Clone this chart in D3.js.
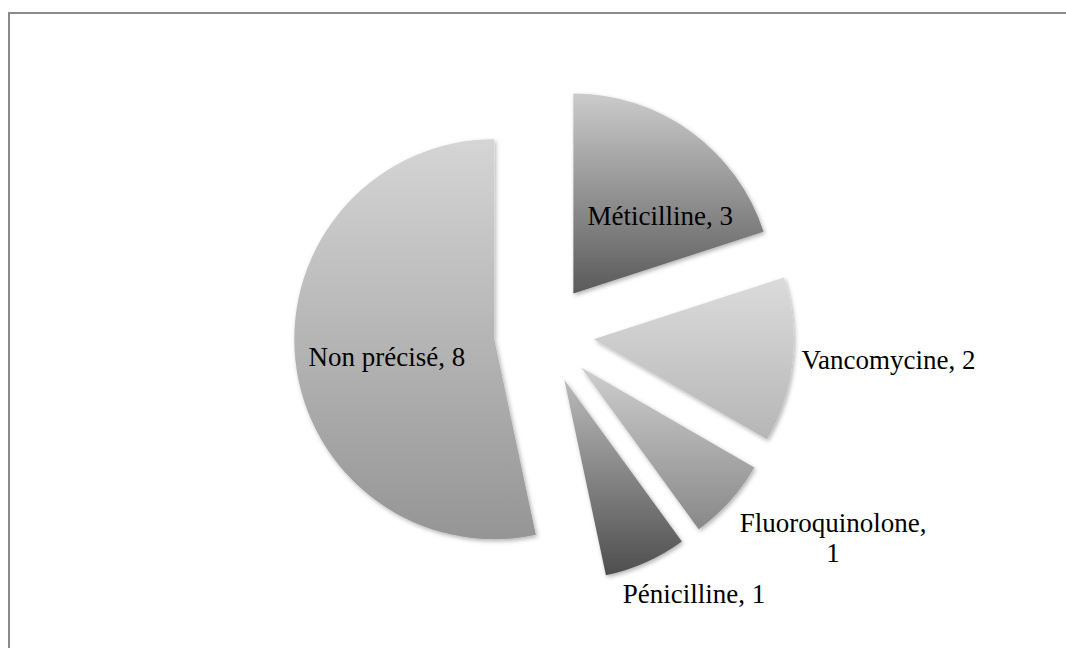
<!DOCTYPE html>
<html>
<head>
<meta charset="utf-8">
<script src="https://cdn.jsdelivr.net/npm/d3@7"></script>
<style>
    html, body { margin: 0; padding: 0; background: #fff; }
    svg { display: block; }
</style>
</head>
<body>
<svg width="1066" height="648"></svg>
<script>
// Données du graphique
const categories = ["Méticilline", "Vancomycine", "Fluoroquinolone", "Pénicilline", "Non précisé"];
const values = [3, 2, 1, 1, 8];

// Dégradés (haut -> bas) de chaque part
const topColors = ["#cbcbcb", "#dbdbdb", "#cecece", "#bababa", "#d5d5d5"];
const bottomColors = ["#5a5a5a", "#b6b6b6", "#888888", "#4e4e4e", "#959595"];

// Placement des étiquettes : distance au sommet de la part, décalage angulaire (degrés), ancrage
const labelRho = [116, 209, 305, 251, 109];
const labelTurn = [12.5, 0, -7.7, -7.1, -4];
const labelAnchor = ["middle", "start", "middle", "middle", "middle"];

const attrArea = {
    width: 1066,
    height: 648,
    cx: 544,
    cy: 334,
    radius: 200,
    explode: 50
};

const svg = d3.select("svg");

// Cadre gris
svg.append("rect")
    .attr("x", 9)
    .attr("y", 13)
    .attr("width", 1200)
    .attr("height", 800)
    .attr("fill", "none")
    .attr("stroke", "#8a8a8a")
    .attr("stroke-width", 2);

const defs = svg.append("defs");

const filter = defs.append("filter")
    .attr("id", "shadow")
    .attr("x", "-10%").attr("y", "-10%")
    .attr("width", "130%").attr("height", "130%");
filter.append("feDropShadow")
    .attr("dx", 1.5)
    .attr("dy", 2)
    .attr("stdDeviation", 2)
    .attr("flood-color", "#000")
    .attr("flood-opacity", 0.3);

categories.forEach((c, i) => {
    const grad = defs.append("linearGradient")
        .attr("id", `grad-${i}`)
        .attr("x1", 0).attr("y1", 0)
        .attr("x2", 0).attr("y2", 1);
    grad.append("stop").attr("offset", "0%").attr("stop-color", topColors[i]);
    grad.append("stop").attr("offset", "100%").attr("stop-color", bottomColors[i]);
});

const pieData = d3.pie()
    .sort(null)
    .value(d => d.value)(categories.map((c, i) => ({ name: c, value: values[i], index: i })));

const arc = d3.arc()
    .innerRadius(0)
    .outerRadius(attrArea.radius);

// Sommet décalé de chaque part (explosion)
function apex(d) {
    const mid = (d.startAngle + d.endAngle) / 2;
    return [
        attrArea.cx + attrArea.explode * Math.sin(mid),
        attrArea.cy - attrArea.explode * Math.cos(mid)
    ];
}

const chart = svg.append("g");

chart.selectAll(".slice")
    .data(pieData)
    .enter()
    .append("path")
    .attr("class", "slice")
    .attr("transform", d => `translate(${apex(d)[0]}, ${apex(d)[1]})`)
    .attr("d", arc)
    .attr("fill", d => `url(#grad-${d.data.index})`)
    .attr("filter", "url(#shadow)");

// Étiquettes
const labels = chart.selectAll(".label")
    .data(pieData)
    .enter()
    .append("text")
    .attr("class", "label")
    .attr("text-anchor", d => labelAnchor[d.data.index])
    .style("font-family", "'Liberation Serif', 'Times New Roman', serif")
    .style("font-size", "27px")
    .style("fill", "#000")
    .each(function (d) {
        const i = d.data.index;
        const [ax, ay] = apex(d);
        const ang = (d.startAngle + d.endAngle) / 2 + labelTurn[i] * Math.PI / 180;
        const x = ax + labelRho[i] * Math.sin(ang);
        const y = ay - labelRho[i] * Math.cos(ang);
        const text = d3.select(this);
        let lines = [`${d.data.name}, ${d.data.value}`];
        if (d.data.name === "Fluoroquinolone") {
            lines = [`${d.data.name},`, `${d.data.value}`];
        }
        const lineHeight = 30;
        lines.forEach((line, k) => {
            text.append("tspan")
                .attr("x", x)
                .attr("y", y + (k - (lines.length - 1) / 2) * lineHeight)
                .attr("dy", "0.3em")
                .text(line);
        });
    });
</script>
</body>
</html>
